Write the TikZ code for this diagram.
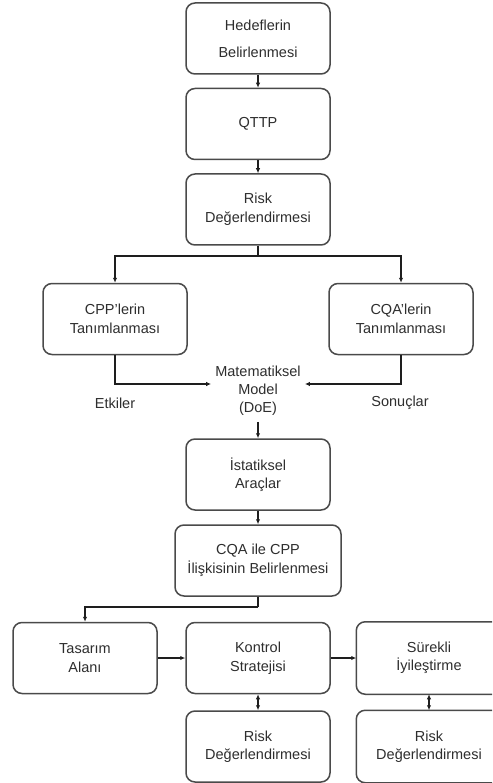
\documentclass[tikz,border=0pt]{standalone}
\usepackage{fontspec}
\setmainfont{Liberation Sans}
\usetikzlibrary{arrows.meta,calc}
\definecolor{boxline}{HTML}{4A4A4A}
\definecolor{txt}{HTML}{2E2E2E}
\definecolor{conn}{HTML}{1E1E1E}
\begin{document}
\begin{tikzpicture}[x=1pt,y=-1pt,
  stepbox/.style={draw=boxline,line width=1.5pt,rounded corners=9pt,
    minimum width=144pt,minimum height=71pt,align=center,inner sep=2pt,
    text=txt,font=\fontsize{14.5}{18.5}\selectfont},
  edgebox/.style={stepbox,draw=none},
  lbl/.style={text=txt,align=center,font=\fontsize{14.5}{18}\selectfont,inner sep=0pt},
  arr/.style={draw=conn,line width=1.3pt,-{Latex[length=5pt,width=4.5pt]}},
  darr/.style={draw=conn,line width=1.3pt,{Latex[length=5pt,width=4.5pt]}-{Latex[length=5pt,width=4.5pt]}},
  ln/.style={draw=conn,line width=1.3pt}]
\useasboundingbox (0,0) rectangle (492,783);
\clip (0,0) rectangle (492,783);
\fill[white] (0,0) rectangle (492,783);
\node[stepbox,font=\fontsize{14.5}{27}\selectfont] (hed) at (258,38.5) {Hedeflerin\\Belirlenmesi};
\node[stepbox] (qttp) at (258,124) {QTTP};
\node[stepbox] (risk1) at (258,209.5) {Risk\\Değerlendirmesi};
\node[stepbox] (cpp) at (115,319) {CPP'lerin\\Tanımlanması};
\node[stepbox] (cqa) at (401,319) {CQA'lerin\\Tanımlanması};
\node[lbl,inner xsep=4pt,inner ysep=6pt] (mat) at (258,391) {Matematiksel\\Model\\(DoE)};
\node[lbl] (etk) at (115,403) {Etkiler};
\node[lbl] (son) at (400,403) {Sonuçlar};
\node[stepbox] (ist) at (258,474.5) {İstatiksel\\Araçlar};
\node[stepbox,minimum width=166pt] (rel) at (258,560.5) {CQA ile CPP\\İlişkisinin Belirlenmesi};
\node[stepbox] (tas) at (85,658) {Tasarım\\Alanı};
\node[stepbox] (kon) at (258,658) {Kontrol\\Stratejisi};
\node[edgebox] (sur) at (429,658) {Sürekli\\İyileştirme};
\node[stepbox] (risk2) at (258,746.5) {Risk\\Değerlendirmesi};
\node[edgebox] (risk3) at (429,746.5) {Risk\\Değerlendirmesi};
% boxes cut by the right edge of the picture
\draw[draw=boxline,line width=1.5pt,rounded corners=9pt] (sur.north west) rectangle ($(sur.south east)+(30,0)$);
\draw[draw=boxline,line width=1.5pt,rounded corners=9pt] (risk3.north west) rectangle ($(risk3.south east)+(30,0)$);
% connectors
\draw[arr] (hed) -- (qttp);
\draw[arr] (qttp) -- (risk1);
\coordinate (split) at (258,256);
\draw[ln] (risk1.south) -- (split);
\draw[arr] (split) -| (cpp.north);
\draw[arr] (split) -| (cqa.north);
\draw[arr] (cpp.south) |- ($(mat.west)+(0,-7)$);
\draw[arr] (cqa.south) |- ($(mat.east)+(0,-7)$);
\draw[arr] (mat) -- (ist);
\draw[arr] (ist) -- (rel);
\coordinate (turn) at (258,607);
\draw[ln] (rel.south) -- (turn);
\draw[arr] (turn) -| (tas.north);
\draw[arr] (tas) -- (kon);
\draw[arr] (kon) -- (sur);
\draw[darr] (kon) -- (risk2);
\draw[darr] (sur) -- (risk3);
\end{tikzpicture}
\end{document}
